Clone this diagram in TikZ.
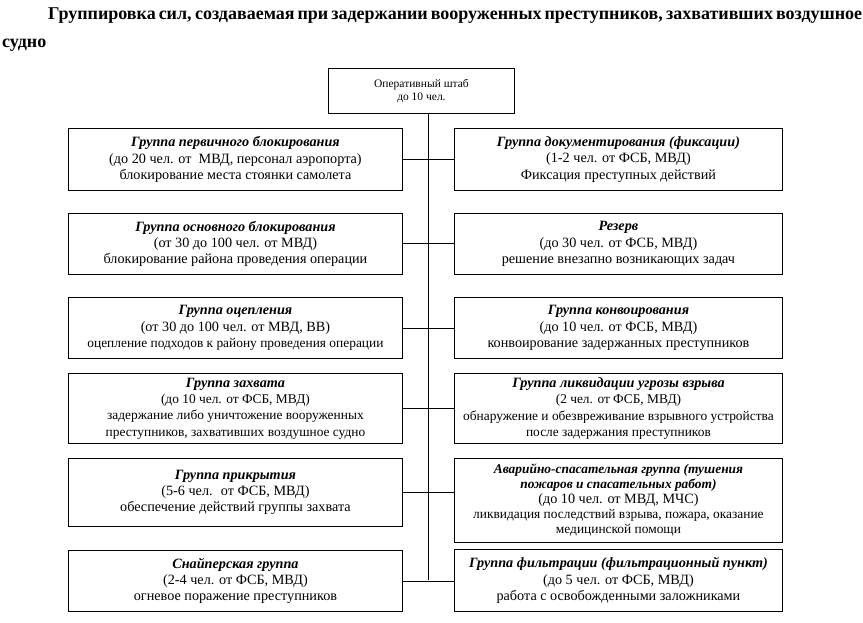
\documentclass[tikz,border=0pt]{standalone}
\usepackage{fontspec}
\setmainfont{Liberation Serif}
\usepackage{xcolor}
\definecolor{ink}{HTML}{000000}
\newcommand{\grpname}[1]{\textbf{\textit{#1}}}
\newcommand{\smalltxt}{\fontsize{13.4}{15}\selectfont}

\begin{document}
\begin{tikzpicture}[
    x=1pt, y=-1pt,
    group box/.style={rectangle, draw=ink, line width=0.9pt, anchor=north west, inner sep=2pt, align=center, text=ink, font=\fontsize{14.2}{16.3}\selectfont},
    left box/.style={group box, minimum width=334pt},
    right box/.style={group box, minimum width=328pt},
    staff box/.style={group box, minimum width=186pt, minimum height=45pt, font=\fontsize{11.5}{13.5}\selectfont},
    link/.style={draw=ink, line width=0.9pt}
  ]
  \useasboundingbox (0,0) rectangle (863,623);
  % heading
  \node[anchor=base west, inner sep=0pt, font=\bfseries\fontsize{18}{20}\selectfont] (title1) at (48,20)
    {\makebox[810pt][s]{Группировка сил, создаваемая при задержании вооруженных преступников, захвативших воздушное}};
  \node[anchor=base west, inner sep=0pt, font=\bfseries\fontsize{18}{20}\selectfont] (title2) at (2,48) {судно};

  \node[staff box] (hq) at (328,68) {Оперативный штаб\\до 10 чел.};

  % left column
  \node[left box, minimum height=62pt] (l1) at (68,128)
    {\grpname{Группа первичного блокирования}\\(до 20 чел. от~ МВД, персонал аэропорта)\\блокирование места стоянки самолета};
  \node[left box, minimum height=61pt] (l2) at (68,213)
    {\grpname{Группа основного блокирования}\\(от 30 до 100 чел. от МВД)\\блокирование района проведения операции};
  \node[left box, minimum height=61pt] (l3) at (68,297)
    {\grpname{Группа оцепления}\\(от 30 до 100 чел. от МВД, ВВ)\\{\smalltxt оцепление подходов к району проведения операции}};
  \node[left box, minimum height=70pt] (l4) at (68,373)
    {\grpname{Группа захвата}\\{\smalltxt (до 10 чел. от ФСБ, МВД)}\\{\smalltxt задержание либо уничтожение вооруженных}\\{\smalltxt преступников, захвативших воздушное судно}};
  \node[left box, minimum height=68pt] (l5) at (68,458)
    {\grpname{Группа прикрытия}\\(5-6 чел.~ от ФСБ, МВД)\\обеспечение действий группы захвата};
  \node[left box, minimum height=61pt] (l6) at (68,550)
    {\grpname{Снайперская группа}\\(2-4 чел. от ФСБ, МВД)\\огневое поражение преступников};

  % right column
  \node[right box, minimum height=62pt] (r1) at (454,128)
    {\grpname{Группа документирования (фиксации)}\\(1-2 чел. от ФСБ, МВД)\\Фиксация преступных действий};
  \node[right box, minimum height=61pt] (r2) at (454,213)
    {\grpname{Резерв}\\(до 30 чел. от ФСБ, МВД)\\решение внезапно возникающих задач};
  \node[right box, minimum height=61pt] (r3) at (454,297)
    {\grpname{Группа конвоирования}\\(до 10 чел. от ФСБ, МВД)\\конвоирование задержанных преступников};
  \node[right box, minimum height=70pt] (r4) at (454,373)
    {\grpname{Группа ликвидации угрозы взрыва}\\{\smalltxt (2 чел. от ФСБ, МВД)}\\{\smalltxt обнаружение и обезвреживание взрывного устройства}\\{\smalltxt после задержания преступников}};
  \node[right box, minimum height=84pt, font=\fontsize{14.2}{15}\selectfont] (r5) at (454,458)
    {{\smalltxt\grpname{Аварийно-спасательная группа (тушения}}\\{\smalltxt\grpname{пожаров и спасательных работ)}}\\(до 10 чел. от МВД, МЧС)\\{\smalltxt ликвидация последствий взрыва, пожара, оказание}\\{\smalltxt медицинской помощи}};
  \node[right box, minimum height=62pt] (r6) at (454,549)
    {\grpname{Группа фильтрации (фильтрационный пункт)}\\(до 5 чел. от ФСБ, МВД)\\работа с освобожденными заложниками};

  % connectors
  \coordinate (trunk) at (428,580);
  \draw[link] (hq.south -| trunk) -- (trunk);
  \draw[link] (l1.east) -- (l1.east -| r1.west);
  \draw[link] (l2.east) -- (l2.east -| r2.west);
  \draw[link] (l3.east) -- (l3.east -| r3.west);
  \draw[link] (l4.east) -- (l4.east -| r4.west);
  \draw[link] (l5.east) -- (l5.east -| r5.west);
  \draw[link] (l6.east) -- (l6.east -| r6.west);
\end{tikzpicture}
\end{document}
